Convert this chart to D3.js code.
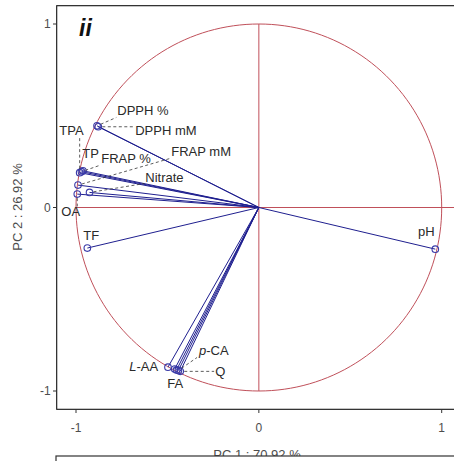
<!DOCTYPE html>
<html><head><meta charset="utf-8">
<script src="https://cdn.jsdelivr.net/npm/d3@7"></script>
<style>body{margin:0;background:#fff}svg{display:block;font-family:"Liberation Sans",Arial,sans-serif}</style>
</head><body>
<svg id="c" width="454" height="461"></svg>
<script>
// Variables (PCA loadings)
const variables = ["DPPH %","DPPH mM","TPA","TP","FRAP %","FRAP mM","Nitrate","OA","TF","pH","L-AA","FA","","p-CA","Q"];
const pc1 = [-0.885,-0.878,-0.980,-0.962,-0.970,-0.989,-0.926,-0.993,-0.938,0.965,-0.497,-0.460,-0.450,-0.440,-0.430];
const pc2 = [0.445,0.440,0.190,0.200,0.195,0.122,0.082,0.073,-0.221,-0.227,-0.870,-0.880,-0.885,-0.888,-0.893];
// label placement (repelled positions, data units: left edge, vertical centre)
const labelX = [-0.774,-0.676,-1.091,-0.966,-0.862,-0.479,-0.621,-1.080,-0.960,0.870,-0.709,-0.501,null,-0.327,-0.239];
const labelY = [0.527,0.420,0.418,0.293,0.267,0.304,0.167,-0.023,-0.154,-0.132,-0.863,-0.960,null,-0.781,-0.895];
const xTicks = [-1,0,1], yTicks = [-1,0,1];
const xTitle = "PC 1 : 70.92 %", yTitle = "PC 2 : 26.92 %", panelTag = "ii";

const svg = d3.select("#c");
const x = d3.scaleLinear().domain([-1,1]).range([76,441.7]);
const y = d3.scaleLinear().domain([-1,1]).range([391,24]);
const L = 56.7, T = 5.7, B = 409.3;
const red = "#c0505a", blue = "#1f1f8f", txt = "#2a2a2a";

// panel border
svg.append("rect").attr("x",L).attr("y",T).attr("width",460-L).attr("height",B-T)
  .attr("fill","none").attr("stroke","#111").attr("stroke-width",1.1);

// unit circle and axes lines
const circ = d3.range(0,361,2).map(a=>[Math.cos(a*Math.PI/180),Math.sin(a*Math.PI/180)]);
svg.append("path").attr("d",d3.line().x(d=>x(d[0])).y(d=>y(d[1]))(circ))
  .attr("fill","none").attr("stroke",red).attr("stroke-width",1);
svg.append("line").attr("x1",x(-1)).attr("x2",x(1.2)).attr("y1",y(0)).attr("y2",y(0)).attr("stroke",red);
svg.append("line").attr("x1",x(0)).attr("x2",x(0)).attr("y1",y(1)).attr("y2",y(-1)).attr("stroke",red);

// loading vectors
const data = variables.map((v,i)=>({v,px:pc1[i],py:pc2[i],lx:labelX[i],ly:labelY[i]}));
svg.append("g").selectAll("line").data(data).join("line")
  .attr("x1",x(0)).attr("y1",y(0)).attr("x2",d=>x(d.px)).attr("y2",d=>y(d.py))
  .attr("stroke",blue).attr("stroke-width",1);
svg.append("g").selectAll("circle").data(data).join("circle")
  .attr("cx",d=>x(d.px)).attr("cy",d=>y(d.py)).attr("r",3.3)
  .attr("fill","none").attr("stroke","#3a3aa8").attr("stroke-width",1.1);

// labels with repel-style segments
const lg = svg.append("g");
data.filter(d=>d.v!=="").forEach(d=>{
  const t = lg.append("text").attr("x",x(d.lx)).attr("y",y(d.ly)).attr("dy","0.36em")
    .attr("font-size",13).attr("fill",txt);
  if (d.v==="L-AA"){ t.append("tspan").attr("font-style","italic").text("L"); t.append("tspan").text("-AA"); }
  else if (d.v==="p-CA"){ t.append("tspan").attr("font-style","italic").text("p"); t.append("tspan").text("-CA"); }
  else t.text(d.v);
  const bb = t.node().getBBox();
  const ptx = x(d.px), pty = y(d.py);
  const bx0 = bb.x-1, bx1 = bb.x+bb.width+1, by0 = bb.y+2, by1 = bb.y+bb.height-1;
  const cx = Math.max(bx0,Math.min(ptx,bx1)), cy = Math.max(by0,Math.min(pty,by1));
  const dist = Math.hypot(cx-ptx,cy-pty);
  if (dist>12){
    const ux=(cx-ptx)/dist, uy=(cy-pty)/dist;
    lg.append("line").attr("x1",ptx+ux*4).attr("y1",pty+uy*4).attr("x2",cx).attr("y2",cy)
      .attr("stroke","#333").attr("stroke-width",0.8).attr("stroke-dasharray","3,2.5");
  }
});

// axes
const ya = svg.append("g");
yTicks.forEach(v=>{
  ya.append("line").attr("x1",L-3.7).attr("x2",L).attr("y1",y(v)).attr("y2",y(v)).attr("stroke","#333");
  ya.append("text").attr("x",L-6).attr("y",y(v)).attr("dy","0.36em").attr("text-anchor","end")
    .attr("font-size",12).attr("fill","#4d4d4d").text(v);
});
const xa = svg.append("g");
xTicks.forEach(v=>{
  xa.append("line").attr("x1",x(v)).attr("x2",x(v)).attr("y1",B).attr("y2",B+3.7).attr("stroke","#333");
  xa.append("text").attr("x",x(v)).attr("y",428).attr("dy","0.36em").attr("text-anchor","middle")
    .attr("font-size",12).attr("fill","#4d4d4d").text(v);
});
svg.append("text").attr("transform","translate(22,207) rotate(-90)").attr("text-anchor","middle")
  .attr("font-size",13).attr("fill","#4d4d4d").text(yTitle);
svg.append("text").attr("x",257).attr("y",458.5).attr("text-anchor","middle")
  .attr("font-size",13).attr("fill","#4d4d4d").text(xTitle);
svg.append("text").attr("x",79).attr("y",36).attr("font-size",23).attr("font-weight","bold")
  .attr("font-style","italic").attr("fill","#111").text(panelTag);

// top edge of the next panel (clips the x title)
svg.append("rect").attr("x",56).attr("y",456).attr("width",420).attr("height",10)
  .attr("fill","#fff").attr("stroke","#333").attr("stroke-width",1.2);
</script>
</body></html>
